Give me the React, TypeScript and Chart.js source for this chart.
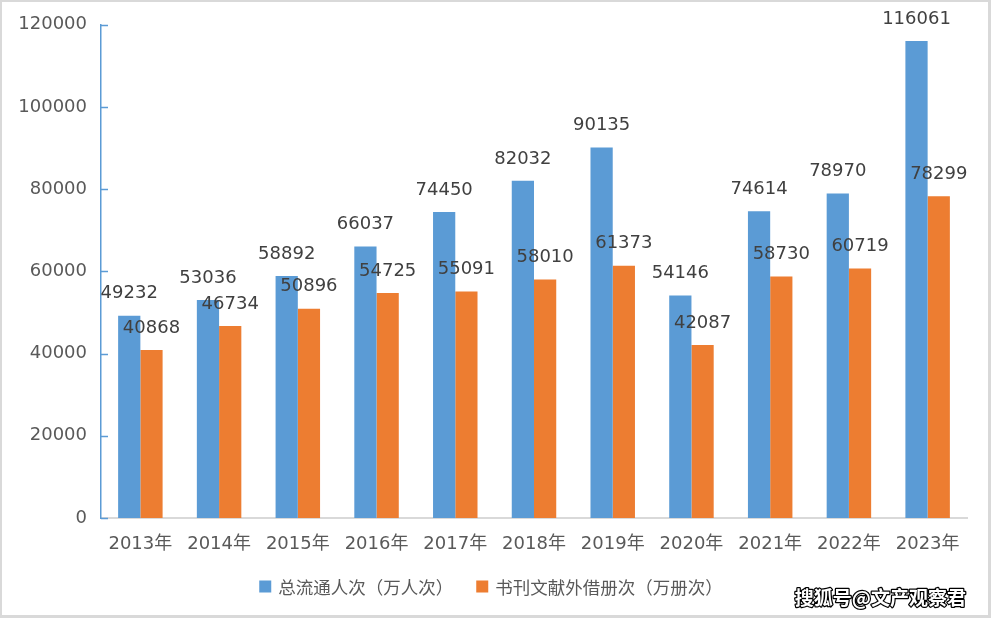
import React, { useEffect, useRef } from "react";
import { Chart, registerables } from "chart.js";

Chart.register(...registerables);

const categories = ["2013年", "2014年", "2015年", "2016年", "2017年", "2018年", "2019年", "2020年", "2021年", "2022年", "2023年"];
const circulation = [49232, 53036, 58892, 66037, 74450, 82032, 90135, 54146, 74614, 78970, 116061];
const loans = [40868, 46734, 50896, 54725, 55091, 58010, 61373, 42087, 58730, 60719, 78299];
const seriesNames = ["总流通人次（万人次）", "书刊文献外借册次（万册次）"];
const watermark = "搜狐号@文产观察君";

const FONT = "'DejaVu Sans', 'Noto Sans CJK SC', sans-serif";
const CJK = "'Noto Sans CJK SC', 'DejaVu Sans', sans-serif";

const labelPlugin = {
  id: "customDraw",
  afterDatasetsDraw(chart: any) {
    const ctx = chart.ctx;
    const ys = chart.scales.y;
    const area = chart.chartArea;
    ctx.save();
    ctx.strokeStyle = "#5B9BD5";
    ctx.lineWidth = 1.5;
    ys.ticks.forEach((t: any) => {
      const y = Math.round(ys.getPixelForValue(t.value)) + 0.5;
      ctx.beginPath();
      ctx.moveTo(area.left, y);
      ctx.lineTo(area.left + 7, y);
      ctx.stroke();
    });
    ctx.font = "18px " + FONT;
    ctx.fillStyle = "#404040";
    ctx.textAlign = "center";
    ctx.textBaseline = "middle";
    chart.data.datasets.forEach((ds: any, di: number) => {
      const meta = chart.getDatasetMeta(di);
      meta.data.forEach((el: any, i: number) => {
        ctx.fillText(String(ds.data[i]), el.x, el.y - 22);
      });
    });
    ctx.restore();
  },
  afterDraw(chart: any) {
    const ctx = chart.ctx;
    ctx.save();
    ctx.font = "17.5px " + CJK;
    ctx.textBaseline = "middle";
    const box = 12, gapText = 7, gapItem = 23;
    const widths = chart.data.datasets.map((d: any) => ctx.measureText(d.label).width);
    let total = 0;
    widths.forEach((w: number, i: number) => {
      total += box + gapText + w + (i > 0 ? gapItem : 0);
    });
    let x = 491 - total / 2;
    const cy = 586.5;
    chart.data.datasets.forEach((d: any, i: number) => {
      ctx.fillStyle = d.backgroundColor;
      ctx.fillRect(x, cy - box / 2, box, box);
      x += box + gapText;
      ctx.fillStyle = "#595959";
      ctx.textAlign = "left";
      ctx.fillText(d.label, x, cy + 1);
      x += widths[i] + gapItem;
    });
    ctx.font = "bold 19px " + CJK;
    ctx.textAlign = "right";
    ctx.textBaseline = "middle";
    ctx.lineJoin = "round";
    ctx.strokeStyle = "#000";
    ctx.lineWidth = 2.5;
    ctx.strokeText(watermark, 966, 598);
    ctx.fillStyle = "#fff";
    ctx.fillText(watermark, 966, 598);
    ctx.restore();
  },
};

export default function App() {
  const ref = useRef<HTMLCanvasElement | null>(null);
  useEffect(() => {
    if (!ref.current) return;
    const chart = new Chart(ref.current, {
      type: "bar",
      data: {
        labels: categories,
        datasets: [
          { label: seriesNames[0], data: circulation, backgroundColor: "#5B9BD5", borderWidth: 0, categoryPercentage: 0.565, barPercentage: 1 },
          { label: seriesNames[1], data: loans, backgroundColor: "#ED7D31", borderWidth: 0, categoryPercentage: 0.565, barPercentage: 1 },
        ],
      },
      options: {
        responsive: false,
        animation: false,
        layout: { padding: { top: 24, right: 24, bottom: 60, left: 0 } },
        plugins: { legend: { display: false }, tooltip: { enabled: false } },
        scales: {
          x: {
            afterFit: (s: any) => { s.height = 40; },
            grid: { display: false, drawTicks: false },
            border: { display: true, color: "#D9D9D9", width: 2 },
            ticks: { color: "#595959", font: { size: 18, family: FONT }, padding: 16, maxRotation: 0 },
          },
          y: {
            min: 0,
            max: 120000,
            afterFit: (s: any) => { s.width = 101; },
            grid: { display: false, drawTicks: false },
            border: { display: true, color: "#5B9BD5", width: 1.5 },
            ticks: { stepSize: 20000, color: "#595959", font: { size: 18, family: FONT }, padding: 14, callback: (v: any) => String(v) },
          },
        },
      },
      plugins: [labelPlugin],
    });
    return () => chart.destroy();
  }, []);
  return (
    <div style={{ position: "fixed", left: 0, top: 0, width: 991, height: 618, background: "#fff" }}>
      <canvas ref={ref} width={991} height={618} style={{ display: "block" }} />
      <div style={{ position: "absolute", left: 0, top: 0, width: 991, height: 618, boxSizing: "border-box", borderStyle: "solid", borderColor: "#D9D9D9", borderWidth: "2px 3px 3px 2px", pointerEvents: "none" }} />
    </div>
  );
}
